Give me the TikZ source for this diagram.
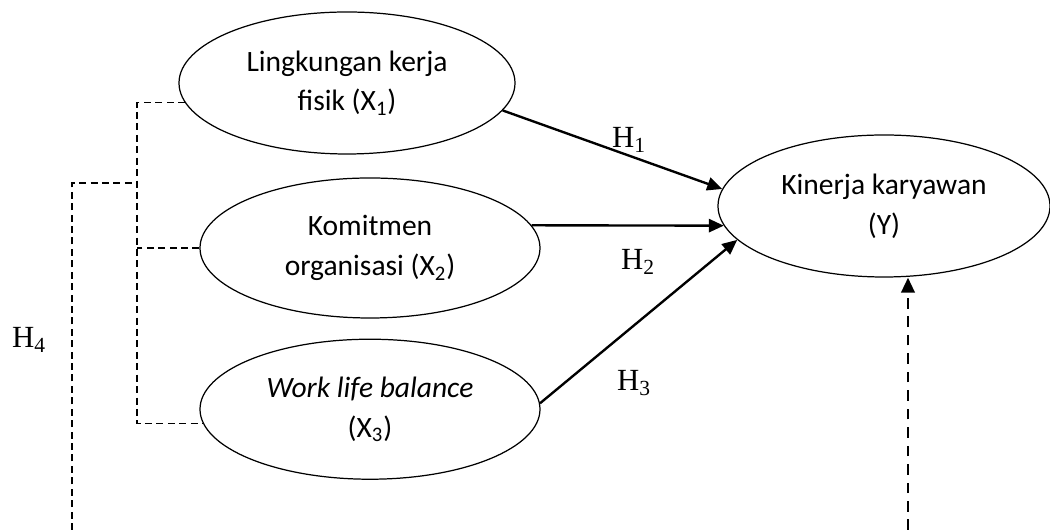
\documentclass[tikz,border=0pt]{standalone}
\usepackage{fontspec}
\setmainfont{Carlito}
\newfontfamily\hypfont{Liberation Serif}
\usetikzlibrary{arrows.meta,positioning,shapes.geometric}

\begin{document}
\begin{tikzpicture}[
  >={Triangle[length=8.5pt,width=7.5pt]},
  every node/.style={align=center},
  construct/.style={ellipse,draw,line width=0.7pt,inner sep=0pt,
    minimum width=6.8cm,minimum height=2.8cm,
    font=\fontsize{16.8}{22.7}\selectfont},
  effect/.style={->,line width=1.35pt},
  moderation/.style={->,line width=1.7pt,dash pattern=on 6pt off 4.5pt},
  bracket/.style={line width=0.6pt,dash pattern=on 4pt off 2.5pt},
  hyp/.style={font=\hypfont\fontsize{17.5}{20}\selectfont,inner sep=0pt}]
  \useasboundingbox (0,0) rectangle (21,10.6);
  \node[construct,minimum width=6.72cm,minimum height=2.84cm] (x1) at (6.94,8.94)
    {Lingkungan kerja\\fisik (X\textsubscript{1})};
  \node[construct] (x2) at (7.40,5.64)
    {Komitmen\\organisasi (X\textsubscript{2})};
  \node[construct,below=0.4cm of x2] (x3)
    {\textit{Work life balance}\\(X\textsubscript{3})};
  \node[construct,minimum width=6.64cm,minimum height=2.84cm] (y) at (17.68,6.48)
    {Kinerja karyawan\\(Y)};

  \draw[effect] (x1.-10) -- (y.174);
  \draw[effect] (x2.8) -- (y.187);
  \draw[effect] (x3.2) -- (y.193);

  \node[hyp] (h1) at (12.58,7.80) {H\textsubscript{1}};
  \node[hyp] (h2) at (12.76,5.36) {H\textsubscript{2}};
  \node[hyp] (h3) at (12.68,2.94) {H\textsubscript{3}};
  \node[hyp] (h4) at (0.58,3.80) {H\textsubscript{4}};

  \coordinate (bus) at (2.74,6.94);
  \coordinate (h4foot) at (1.44,0);
  \draw[bracket] (x1.187) -- (x1.187 -| bus) -- (x3.185 -| bus) -- (x3.185);
  \draw[bracket] (x2.west) -- (x2.west -| bus);
  \draw[bracket] (h4foot) |- (bus);

  \coordinate (yfoot) at (18.16,0);
  \draw[moderation] (yfoot) -- (yfoot |- y.south);
\end{tikzpicture}
\end{document}
